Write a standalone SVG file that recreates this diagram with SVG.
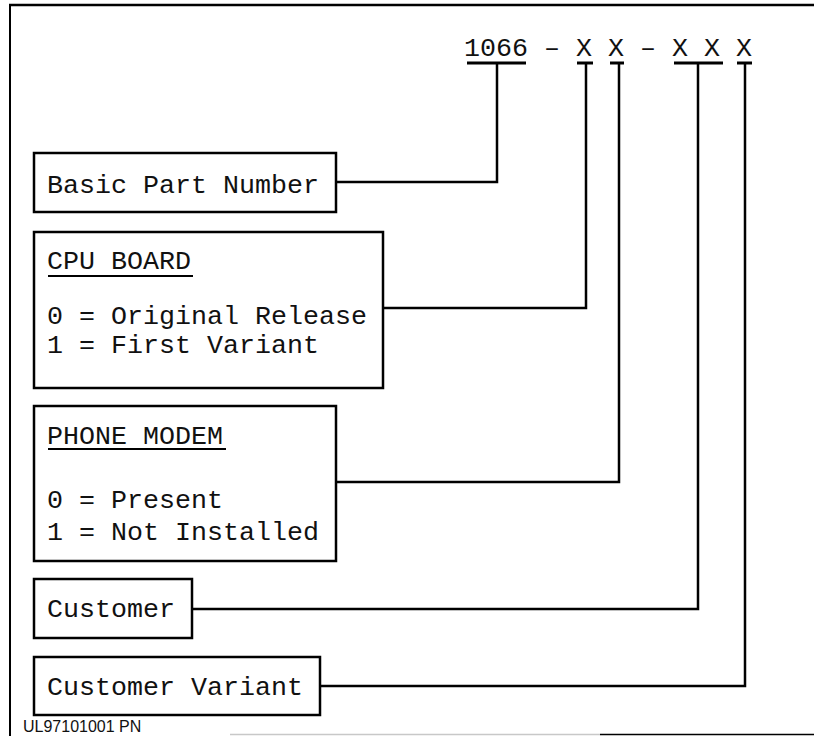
<svg xmlns="http://www.w3.org/2000/svg" width="814" height="736" viewBox="0 0 814 736">
<style>
.box{fill:#fff;stroke:#000;stroke-width:2.5}
.t{font-family:"Liberation Mono","Courier New",monospace;font-size:26.67px;fill:#111}
.ln{fill:none;stroke:#000;stroke-width:2.5}
.ul{stroke:#000;stroke-width:2}
.bar{stroke:#000;stroke-width:3}
</style>
<rect width="814" height="736" fill="#fff"/>
<g id="frame">
<line x1="9" y1="5" x2="814" y2="5" stroke="#000" stroke-width="2.5"/>
<line x1="10" y1="4" x2="10" y2="736" stroke="#000" stroke-width="2"/>
<line x1="230" y1="734.5" x2="600" y2="734.5" stroke="#c8c8c8" stroke-width="1.5"/>
<line x1="600" y1="734.5" x2="814" y2="734.5" stroke="#000" stroke-width="1.5"/>
</g>
<g id="code">
<text class="t" x="464" y="56" xml:space="preserve">1066 – X X – X X X</text>
<line class="bar" x1="467" y1="63" x2="526" y2="63"/>
<line class="bar" x1="577" y1="63" x2="593" y2="63"/>
<line class="bar" x1="610" y1="63" x2="624" y2="63"/>
<line class="bar" x1="674" y1="63" x2="723" y2="63"/>
<line class="bar" x1="737" y1="63" x2="752" y2="63"/>
</g>
<g id="connectors">
<polyline class="ln" points="336,182 497,182 497,63"/>
<polyline class="ln" points="383,308 586,308 586,63"/>
<polyline class="ln" points="336,482 619,482 619,63"/>
<polyline class="ln" points="192,609 698,609 698,63"/>
<polyline class="ln" points="320,686 745,686 745,63"/>
</g>
<g id="basic">
<rect class="box" x="34" y="153" width="302" height="59"/>
<text class="t" x="47" y="193" xml:space="preserve">Basic Part Number</text>
</g>
<g id="cpu">
<rect class="box" x="34" y="232" width="349" height="156"/>
<text class="t" x="47" y="269" xml:space="preserve">CPU BOARD</text>
<line class="ul" x1="48" y1="276" x2="193" y2="276"/>
<text class="t" x="47" y="324" xml:space="preserve">0 = Original Release</text>
<text class="t" x="47" y="353" xml:space="preserve">1 = First Variant</text>
</g>
<g id="modem">
<rect class="box" x="34" y="406" width="302" height="155"/>
<text class="t" x="47" y="444" xml:space="preserve">PHONE MODEM</text>
<line class="ul" x1="48" y1="449" x2="226" y2="449"/>
<text class="t" x="47" y="508" xml:space="preserve">0 = Present</text>
<text class="t" x="47" y="540" xml:space="preserve">1 = Not Installed</text>
</g>
<g id="customer">
<rect class="box" x="34" y="579" width="158" height="59"/>
<text class="t" x="47" y="617">Customer</text>
</g>
<g id="variant">
<rect class="box" x="34" y="657" width="286" height="58"/>
<text class="t" x="47" y="695" xml:space="preserve">Customer Variant</text>
</g>
<text x="23" y="732" font-family="Liberation Sans, Arial, sans-serif" font-size="16" fill="#111">UL97101001 PN</text>
</svg>
